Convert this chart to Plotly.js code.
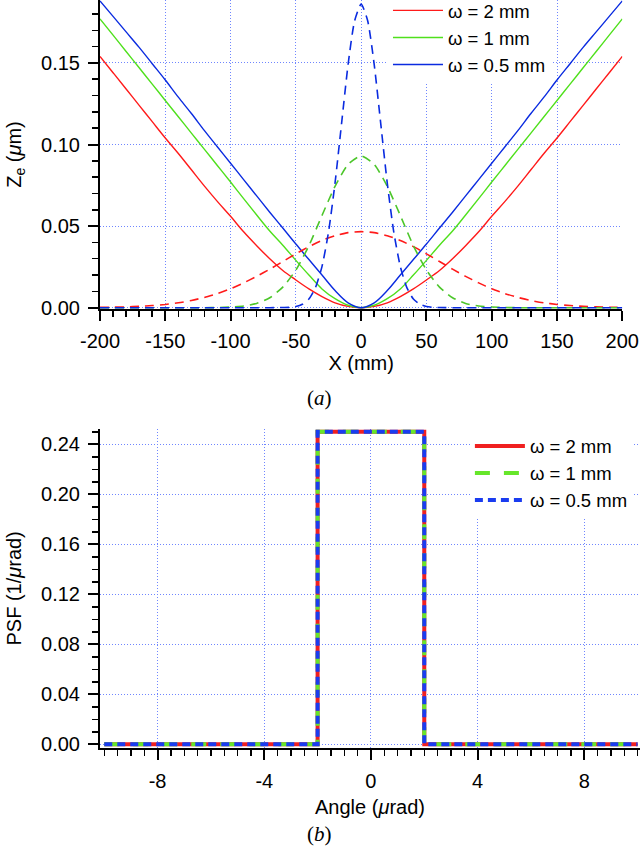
<!DOCTYPE html>
<html>
<head>
<meta charset="utf-8">
<script src="https://cdn.plot.ly/plotly-3.0.1.min.js"></script>
<style>html,body{margin:0;padding:0;background:#fff;}#chart{width:640px;height:856px;}</style>
</head>
<body>
<div id="chart"></div>
<script>
// ---------- Panel (a): Z_e vs X ----------
const xMm = [-200,-190,-180,-170,-160,-150,-140,-130,-120,-110,-100,-90,-80,-70,-60,-50,-40,-30,-20,-10,0,10,20,30,40,50,60,70,80,90,100,110,120,130,140,150,160,170,180,190,200];
const zeW2 = [0.1540,0.1440,0.1340,0.1240,0.1140,0.1040,0.0945,0.0845,0.0745,0.0650,0.0560,0.0465,0.0380,0.0300,0.0228,0.0170,0.0115,0.0068,0.0030,0.0008,0,0.0008,0.0030,0.0068,0.0115,0.0170,0.0228,0.0300,0.0380,0.0465,0.0560,0.0650,0.0745,0.0845,0.0945,0.1040,0.1140,0.1240,0.1340,0.1440,0.1540];
const zeW1 = [0.1770,0.1670,0.1570,0.1470,0.1370,0.1270,0.1170,0.1070,0.0970,0.0870,0.0770,0.0668,0.0568,0.0470,0.0383,0.0290,0.0200,0.0115,0.0055,0.0015,0,0.0015,0.0055,0.0115,0.0200,0.0290,0.0383,0.0470,0.0568,0.0668,0.0770,0.0870,0.0970,0.1070,0.1170,0.1270,0.1370,0.1470,0.1570,0.1670,0.1770];
const zeW05 = [0.1880,0.1785,0.1690,0.1595,0.1495,0.1395,0.1290,0.1190,0.1085,0.0985,0.0885,0.0785,0.0685,0.0585,0.0488,0.0390,0.0295,0.0200,0.0105,0.0030,0,0.0030,0.0105,0.0200,0.0295,0.0390,0.0488,0.0585,0.0685,0.0785,0.0885,0.0985,0.1085,0.1190,0.1290,0.1395,0.1495,0.1595,0.1690,0.1785,0.1880];
const gW2 = [0.0002,0.0003,0.0005,0.0008,0.0013,0.0020,0.0030,0.0044,0.0063,0.0087,0.0116,0.0152,0.0192,0.0236,0.0283,0.0330,0.0374,0.0412,0.0441,0.0460,0.0466,0.0460,0.0441,0.0412,0.0374,0.0330,0.0283,0.0236,0.0192,0.0152,0.0116,0.0087,0.0063,0.0044,0.0030,0.0020,0.0013,0.0008,0.0005,0.0003,0.0002];
const gW1 = [0,0,0,0,0,0,0,0,0,0.0001,0.0004,0.0010,0.0026,0.0061,0.0126,0.0231,0.0380,0.0565,0.0744,0.0878,0.0930,0.0878,0.0744,0.0565,0.0380,0.0231,0.0126,0.0061,0.0026,0.0010,0.0004,0.0001,0,0,0,0,0,0,0,0,0];
const xMmFine = [-200,-190,-180,-170,-160,-150,-140,-130,-120,-110,-100,-90,-80,-70,-60,-55,-50,-45,-40,-35,-30,-25,-20,-15,-10,-5,0,5,10,15,20,25,30,35,40,45,50,55,60,70,80,90,100,110,120,130,140,150,160,170,180,190,200];
const gW05 = [0,0,0,0,0,0,0,0,0,0,0,0,0,0,0.0001,0.0002,0.0007,0.0021,0.0053,0.0123,0.0252,0.0463,0.0764,0.1128,0.1490,0.1758,0.1860,0.1758,0.1490,0.1128,0.0764,0.0463,0.0252,0.0123,0.0053,0.0021,0.0007,0.0002,0.0001,0,0,0,0,0,0,0,0,0,0,0,0,0,0];
const xTicksA = [-200,-150,-100,-50,0,50,100,150,200];
const xTickTextA = ["-200","-150","-100","-50","0","50","100","150","200"];
const yTicksA = [0,0.05,0.10,0.15];
const yTickTextA = ["0.00","0.05","0.10","0.15"];

// ---------- Panel (b): PSF vs angle ----------
const angle = [-10,-2,-2,2,2,10];
const psfW2 = [0,0,0.25,0.25,0,0];
const psfW1 = [0,0,0.25,0.25,0,0];
const psfW05 = [0,0,0.25,0.25,0,0];
const xTicksB = [-8,-4,0,4,8];
const xTickTextB = ["-8","-4","0","4","8"];
const yTicksB = [0,0.04,0.08,0.12,0.16,0.20,0.24];
const yTickTextB = ["0.00","0.04","0.08","0.12","0.16","0.20","0.24"];

const names = ["ω = 2 mm","ω = 1 mm","ω = 0.5 mm"];
const RED = "#ff1a1a", GREEN = "#4fe01c", BLUE = "#0a2be0";
const GREEN_D = "#4cc62a";

// minor tick positions (axis decoration only)
function minorVals(lo, hi, step, majors){
  const out = [];
  const n = Math.round((hi - lo) / step);
  for(let i = 0; i <= n; i++){
    const v = +(lo + i * step).toFixed(6);
    if(!majors.some(m => Math.abs(m - v) < step * 1e-3)) out.push(v);
  }
  return out;
}

const XR_A = [-200,200], YR_A = [-0.0008,0.18855];
const XR_B = [-10.16,10.09], YR_B = [-0.003,0.2525];

const traces = [
  {x:xMm, y:zeW2, name:names[0], mode:"lines", line:{color:RED, width:1.4, shape:"spline"}, xaxis:"x", yaxis:"y", legend:"legend"},
  {x:xMm, y:zeW1, name:names[1], mode:"lines", line:{color:GREEN, width:1.4, shape:"spline"}, xaxis:"x", yaxis:"y", legend:"legend"},
  {x:xMm, y:zeW05, name:names[2], mode:"lines", line:{color:BLUE, width:1.4, shape:"spline"}, xaxis:"x", yaxis:"y", legend:"legend"},
  {x:xMm, y:gW2, mode:"lines", showlegend:false, line:{color:RED, width:1.6, dash:"9px,6px", shape:"spline", smoothing:0.6}, xaxis:"x", yaxis:"y"},
  {x:xMm, y:gW1, mode:"lines", showlegend:false, line:{color:GREEN_D, width:1.6, dash:"9px,6px", shape:"spline", smoothing:0.6}, xaxis:"x", yaxis:"y"},
  {x:xMmFine, y:gW05, mode:"lines", showlegend:false, line:{color:BLUE, width:1.6, dash:"9px,6px", shape:"spline", smoothing:0.6}, xaxis:"x", yaxis:"y"},
  {x:angle, y:psfW2, name:names[0], mode:"lines", line:{color:"#f02020", width:4}, xaxis:"x2", yaxis:"y2", legend:"legend2"},
  {x:angle, y:psfW1, name:names[1], mode:"lines", line:{color:"#66e62a", width:4, dash:"15px,14px"}, xaxis:"x2", yaxis:"y2", legend:"legend2"},
  {x:angle, y:psfW05, name:names[2], mode:"lines", line:{color:"#1a3cf0", width:4, dash:"8px,5px"}, xaxis:"x2", yaxis:"y2", legend:"legend2"},
  // empty carriers so that the minor-tick overlay axes are drawn
  {x:[], y:[], xaxis:"x3", yaxis:"y", showlegend:false, hoverinfo:"skip"},
  {x:[], y:[], xaxis:"x", yaxis:"y3", showlegend:false, hoverinfo:"skip"},
  {x:[], y:[], xaxis:"x4", yaxis:"y2", showlegend:false, hoverinfo:"skip"},
  {x:[], y:[], xaxis:"x2", yaxis:"y4", showlegend:false, hoverinfo:"skip"}
];

const FONT = "Liberation Sans, Arial, sans-serif";
const gridStyle = {showgrid:true, gridcolor:"#6f86ff", gridwidth:1, griddash:"1px,2px"};
function axisBase(extra){
  return Object.assign({
    showline:true, linecolor:"black", linewidth:2, mirror:false, zeroline:false,
    ticks:"outside", ticklen:10, tickwidth:2, tickcolor:"black",
    tickfont:{family:FONT, size:20, color:"black"},
    automargin:false, fixedrange:true
  }, gridStyle, extra);
}
function minorAxis(extra){
  return Object.assign({
    showline:false, zeroline:false, showgrid:false, showticklabels:false,
    ticks:"outside", ticklen:7, tickwidth:1.5, tickcolor:"black",
    tickmode:"array", automargin:false, fixedrange:true
  }, extra);
}

const layout = {
  width:640, height:856,
  margin:{l:100, r:0, t:0, b:0, autoexpand:false},
  paper_bgcolor:"white", plot_bgcolor:"white",
  font:{family:FONT, size:20, color:"black"},
  xaxis: axisBase({domain:[0,0.96722], range:XR_A, anchor:"y",
    tickmode:"array", tickvals:xTicksA, ticktext:xTickTextA, ticklabelstandoff:3,
    title:{text:"X (mm)", font:{family:FONT, size:20}, standoff:3}}),
  yaxis: axisBase({domain:[0.63902,1], range:YR_A, anchor:"x",
    tickmode:"array", tickvals:yTicksA, ticktext:yTickTextA, ticklabelstandoff:4,
    title:{text:"Z<sub>e</sub> (<i>μ</i>m)", font:{family:FONT, size:20}, standoff:14}}),
  xaxis3: minorAxis({overlaying:"x", anchor:"y", side:"bottom", range:XR_A, tickvals:minorVals(-200, 200, 10, xTicksA)}),
  yaxis3: minorAxis({overlaying:"y", anchor:"x", side:"left", range:YR_A, tickvals:minorVals(0, 0.18, 0.01, yTicksA)}),
  xaxis2: axisBase({domain:[0,1], range:XR_B, anchor:"y2",
    tickmode:"array", tickvals:xTicksB, ticktext:xTickTextB, ticklabelstandoff:4,
    title:{text:"Angle (<i>μ</i>rad)", font:{family:FONT, size:20}, standoff:9}}),
  yaxis2: axisBase({domain:[0.12611,0.49918], range:YR_B, anchor:"x2",
    tickmode:"array", tickvals:yTicksB, ticktext:yTickTextB, ticklabelstandoff:4,
    title:{text:"PSF (1/<i>μ</i>rad)", font:{family:FONT, size:20}, standoff:14}}),
  xaxis4: minorAxis({overlaying:"x2", anchor:"y2", side:"bottom", range:XR_B, tickvals:minorVals(-10, 10, 0.5, xTicksB)}),
  yaxis4: minorAxis({overlaying:"y2", anchor:"x2", side:"left", range:YR_B, tickvals:minorVals(0, 0.25, 0.01, yTicksB)}),
  legend:{x:0.5333, y:1.0095, xanchor:"left", yanchor:"top", bgcolor:"white", borderwidth:0,
    font:{family:FONT, size:18.5, color:"black"}, itemwidth:50, tracegroupgap:0},
  legend2:{x:0.685, y:0.5006, xanchor:"left", yanchor:"top", bgcolor:"white", borderwidth:0,
    font:{family:FONT, size:18.5, color:"black"}, itemwidth:50, tracegroupgap:0},
  annotations:[
    {text:"(<i>a</i>)", xref:"paper", yref:"paper", x:0.4074, y:1-398/856, xanchor:"center", yanchor:"middle", showarrow:false, font:{family:"Liberation Serif, Times New Roman, serif", size:21, color:"black"}},
    {text:"(<i>b</i>)", xref:"paper", yref:"paper", x:0.4074, y:1-834/856, xanchor:"center", yanchor:"middle", showarrow:false, font:{family:"Liberation Serif, Times New Roman, serif", size:21, color:"black"}}
  ],
  showlegend:true
};

Plotly.newPlot("chart", traces, layout, {staticPlot:true, displayModeBar:false});
</script>
</body>
</html>
